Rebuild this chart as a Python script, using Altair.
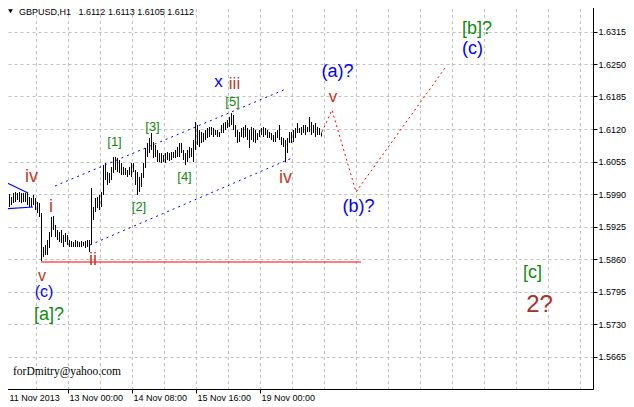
import altair as alt
import pandas as pd

# ---------------- data ----------------
highs = [1.5990, 1.5984, 1.5990, 1.5984, 1.5992, 1.5994, 1.5992, 1.5994, 1.5992, 1.5992,
         1.5992, 1.5992, 1.5984, 1.5982, 1.5988, 1.5982, 1.5974, 1.5972, 1.5952, 1.5884,
         1.5888, 1.5898, 1.5914, 1.5944, 1.5946, 1.5928, 1.5918, 1.5914, 1.5918, 1.5908,
         1.5912, 1.5908, 1.5898, 1.5896, 1.5894, 1.5898, 1.5896, 1.5894, 1.5896, 1.5894,
         1.5896, 1.5898, 1.5898, 1.6002, 1.5964, 1.5982, 1.5984, 1.5988, 1.5994, 1.6048,
         1.6052, 1.6034, 1.6032, 1.6044, 1.6064, 1.6064, 1.6062, 1.6058, 1.6052, 1.6044,
         1.6042, 1.6038, 1.6044, 1.6052, 1.6052, 1.6038, 1.6034, 1.6024, 1.6032, 1.6052,
         1.6082, 1.6092, 1.6102, 1.6112, 1.6094, 1.6088, 1.6078, 1.6072, 1.6072, 1.6068,
         1.6072, 1.6074, 1.6072, 1.6074, 1.6074, 1.6078, 1.6084, 1.6092, 1.6092, 1.6078,
         1.6072, 1.6078, 1.6084, 1.6082, 1.6098, 1.6134, 1.6128, 1.6118, 1.6114, 1.6112,
         1.6118, 1.6122, 1.6124, 1.6124, 1.6122, 1.6118, 1.6118, 1.6114, 1.6128, 1.6132,
         1.6134, 1.6138, 1.6144, 1.6152, 1.6148, 1.6128, 1.6118, 1.6114, 1.6122, 1.6124,
         1.6128, 1.6122, 1.6118, 1.6124, 1.6122, 1.6118, 1.6112, 1.6118, 1.6122, 1.6124,
         1.6122, 1.6118, 1.6114, 1.6112, 1.6108, 1.6114, 1.6118, 1.6128, 1.6104, 1.6102,
         1.6098, 1.6102, 1.6114, 1.6114, 1.6118, 1.6122, 1.6132, 1.6122, 1.6124, 1.6128,
         1.6128, 1.6124, 1.6144, 1.6134, 1.6128, 1.6132, 1.6124, 1.6122, 1.6113]
lows = [1.5966, 1.5964, 1.5964, 1.5968, 1.5972, 1.5974, 1.5978, 1.5974, 1.5972, 1.5974,
        1.5974, 1.5968, 1.5964, 1.5964, 1.5968, 1.5958, 1.5952, 1.5944, 1.5856, 1.5864,
        1.5868, 1.5868, 1.5882, 1.5904, 1.5918, 1.5904, 1.5898, 1.5894, 1.5892, 1.5884,
        1.5894, 1.5888, 1.5884, 1.5884, 1.5884, 1.5884, 1.5884, 1.5884, 1.5884, 1.5886,
        1.5882, 1.5884, 1.5874, 1.5888, 1.5938, 1.5954, 1.5962, 1.5958, 1.5964, 1.5988,
        1.6018, 1.6008, 1.6012, 1.6018, 1.6032, 1.6038, 1.6034, 1.6032, 1.6028, 1.6028,
        1.6028, 1.6024, 1.6028, 1.6024, 1.6034, 1.6008, 1.5988, 1.5994, 1.6004, 1.6022,
        1.6042, 1.6064, 1.6072, 1.6078, 1.6062, 1.6064, 1.6054, 1.6054, 1.6052, 1.6054,
        1.6052, 1.6058, 1.6056, 1.6058, 1.6062, 1.6062, 1.6064, 1.6064, 1.6072, 1.6058,
        1.6048, 1.6054, 1.6062, 1.6064, 1.6054, 1.6078, 1.6088, 1.6084, 1.6092, 1.6094,
        1.6098, 1.6102, 1.6104, 1.6108, 1.6104, 1.6108, 1.6104, 1.6104, 1.6112, 1.6112,
        1.6118, 1.6122, 1.6124, 1.6128, 1.6118, 1.6104, 1.6092, 1.6094, 1.6104, 1.6102,
        1.6104, 1.6098, 1.6082, 1.6098, 1.6094, 1.6092, 1.6098, 1.6104, 1.6108, 1.6104,
        1.6108, 1.6102, 1.6102, 1.6098, 1.6094, 1.6094, 1.6102, 1.6098, 1.6088, 1.6084,
        1.6054, 1.6072, 1.6092, 1.6092, 1.6094, 1.6102, 1.6112, 1.6112, 1.6108, 1.6112,
        1.6108, 1.6114, 1.6114, 1.6108, 1.6112, 1.6104, 1.6108, 1.6108, 1.6105]

# x tick labels (bar index positions) and grid
x_tick_vals = [-1, 31.5, 63.5, 95.5, 127.5]
x_tick_labels = ["11 Nov 2013", "13 Nov 00:00", "14 Nov 08:00", "15 Nov 16:00", "19 Nov 00:00"]
x_grid = [15.5, 31.5, 47.5, 63.5, 79.5, 95.5, 111.5, 127.5, 143.5, 159.5,
          175.5, 191.5, 207.5, 223.5, 239.5, 255.5, 271.5, 287.5]
y_ticks = [1.5665, 1.5730, 1.5795, 1.5860, 1.5925, 1.5990, 1.6055, 1.6120, 1.6185, 1.6250, 1.6315]

# drawn objects
support_i = [18]
support_i2 = [178]
support_p = [1.5855]
chan_up_i = [25, 140.5]
chan_up_p = [1.6006, 1.6200]
chan_lo_i = [42.5, 143.5]
chan_lo_p = [1.5888, 1.6062]
wedge_a_i = [-1, 11.5]
wedge_a_p = [1.6016, 1.5992]
wedge_b_i = [-1, 14]
wedge_b_p = [1.5960, 1.5964]
zig_i = [158.5, 163.5, 175.5, 220]
zig_p = [1.6114, 1.6158, 1.5994, 1.6242]

RED = "#c03a25"
GRN = "#108a10"
BLU = "#0000ff"
lab_text = ["iv", "i", "ii", "v", "(c)", "[a]?", "[1]", "[2]", "[3]", "[4]", "[5]",
            "x", "iii", "iv", "(a)?", "v", "(b)?", "[b]?", "(c)", "[c]", "2?"]
lab_i = [13.25, 23, 44, 18.5, 19.5, 22, 54.75, 67, 73.75, 89.75, 113.75,
         106.75, 114.75, 140.25, 166.25, 164, 176.75, 236, 233.75, 263.75, 267.25]
lab_p = [1.6014, 1.5954, 1.5848, 1.5816, 1.5784, 1.5739, 1.6087, 1.5957, 1.6117, 1.6017, 1.6167,
         1.6204, 1.6200, 1.6012, 1.6225, 1.6174, 1.5955, 1.6311, 1.6271, 1.5823, 1.5754]
lab_color = [RED, RED, RED, RED, BLU, GRN, GRN, GRN, GRN, GRN, GRN,
             BLU, RED, RED, BLU, RED, BLU, GRN, BLU, GRN, "#a8302a"]
lab_size = [18, 18, 18, 16, 16, 18, 13, 13, 13, 13, 13,
            17, 17, 18, 18, 17, 18, 18, 18, 18, 24]

header = "GBPUSD,H1\u00a0\u00a0 1.6112 1.6113 1.6105 1.6112"
signature = "forDmitry@yahoo.com"

# ---------------- chart ----------------
xs = alt.Scale(domain=[-1, 294], nice=False, zero=False)
ys = alt.Scale(domain=[1.5600, 1.6372], nice=False, zero=False)
FONT = "Liberation Sans"

label_expr = "".join(f"datum.value == {v} ? '{t}' : " for v, t in zip(x_tick_vals, x_tick_labels)) + "''"

X_AX = alt.Axis(
    orient="bottom", values=x_tick_vals, labelExpr=label_expr, grid=False,
    tickSize=4, tickColor="black", domainColor="black", labelAlign="left",
    labelBaseline="top", labelPadding=0,
    labelOffset={"condition": {"test": "datum.value == -1", "value": 6}, "value": 1},
    labelFont=FONT, labelFontSize=9, labelColor="black", title=None,
    labelFlush=False, labelOverlap=False)
Y_AX = alt.Axis(
    orient="right", values=y_ticks, format=".4f", grid=True, gridDash=[3, 3],
    gridColor="#c0c0c0", tickSize=4, tickColor="black", domainColor="black",
    labelPadding=1, labelFont=FONT, labelFontSize=9, labelColor="black",
    title=None, labelOverlap=False, labelFlush=False)


def X(f):
    return alt.X(f, scale=xs, axis=X_AX)


def Y(f):
    return alt.Y(f, scale=ys, axis=Y_AX)


bars_df = pd.DataFrame({"i": list(range(len(highs))), "high": highs, "low": lows})

grid_layer = alt.Chart(pd.DataFrame({"g": x_grid})).mark_rule(
    color="#c0c0c0", strokeDash=[3, 3], strokeWidth=1, xOffset=0.5
).encode(x=X("g:Q"))

bars = alt.Chart(bars_df).mark_rule(color="black", strokeWidth=1, xOffset=0.5).encode(
    x=X("i:Q"), y=Y("high:Q"), y2="low:Q",
)

support = alt.Chart(pd.DataFrame({"a": support_i, "b": support_i2, "p": support_p})).mark_rule(
    color="#ff0000", strokeWidth=1.2, yOffset=0.5
).encode(x=X("a:Q"), x2="b:Q", y=Y("p:Q"))


def seg(ii, pp, color, dash=None, width=1):
    df = pd.DataFrame({"i": ii, "p": pp, "o": list(range(len(ii)))})
    kw = dict(color=color, strokeWidth=width)
    if dash:
        kw["strokeDash"] = dash
    return alt.Chart(df).mark_line(**kw).encode(x=X("i:Q"), y=Y("p:Q"), order="o:Q")


chan_up = seg(chan_up_i, chan_up_p, BLU, dash=[2, 4])
chan_lo = seg(chan_lo_i, chan_lo_p, BLU, dash=[2, 4])
wedge_a = seg(wedge_a_i, wedge_a_p, BLU, width=1.2)
wedge_b = seg(wedge_b_i, wedge_b_p, BLU, width=1.2)
zig = seg(zig_i, zig_p, "#ff0000", dash=[2, 3])

labels_df = pd.DataFrame({"t": lab_text, "i": lab_i, "p": lab_p, "c": lab_color, "s": lab_size})
labels = alt.Chart(labels_df).mark_text(font=FONT, align="center", baseline="alphabetic").encode(
    x=X("i:Q"), y=Y("p:Q"), text="t:N",
    color=alt.Color("c:N", scale=None),
    size=alt.Size("s:Q", scale=None),
)

sig = alt.Chart(pd.DataFrame({"t": [signature], "i": [4.0], "p": [1.5628]})).mark_text(
    font="Liberation Serif", fontSize=11.5, align="left", baseline="alphabetic", color="black"
).encode(x=X("i:Q"), y=Y("p:Q"), text="t:N")

head = alt.Chart(pd.DataFrame({"t": [header]})).mark_text(
    font=FONT, fontSize=9, align="left", baseline="alphabetic", color="black"
).encode(x=alt.value(16), y=alt.value(11.5), text="t:N")

tri = alt.Chart(pd.DataFrame({"t": [header]})).mark_point(
    shape="triangle-down", filled=True, color="black", size=22, opacity=1
).encode(x=alt.value(7.5), y=alt.value(8.2))

chart = alt.layer(
    grid_layer, bars, support, chan_up, chan_lo, wedge_a, wedge_b, zig, labels, sig, head, tri
).properties(
    width=590, height=386,
    padding={"left": -5, "top": -5, "right": 33, "bottom": 14},
    autosize="none",
    background="white",
).configure_view(stroke="black", strokeWidth=1)

chart.save("out.html", embed_options={"renderer": "svg", "actions": False})
